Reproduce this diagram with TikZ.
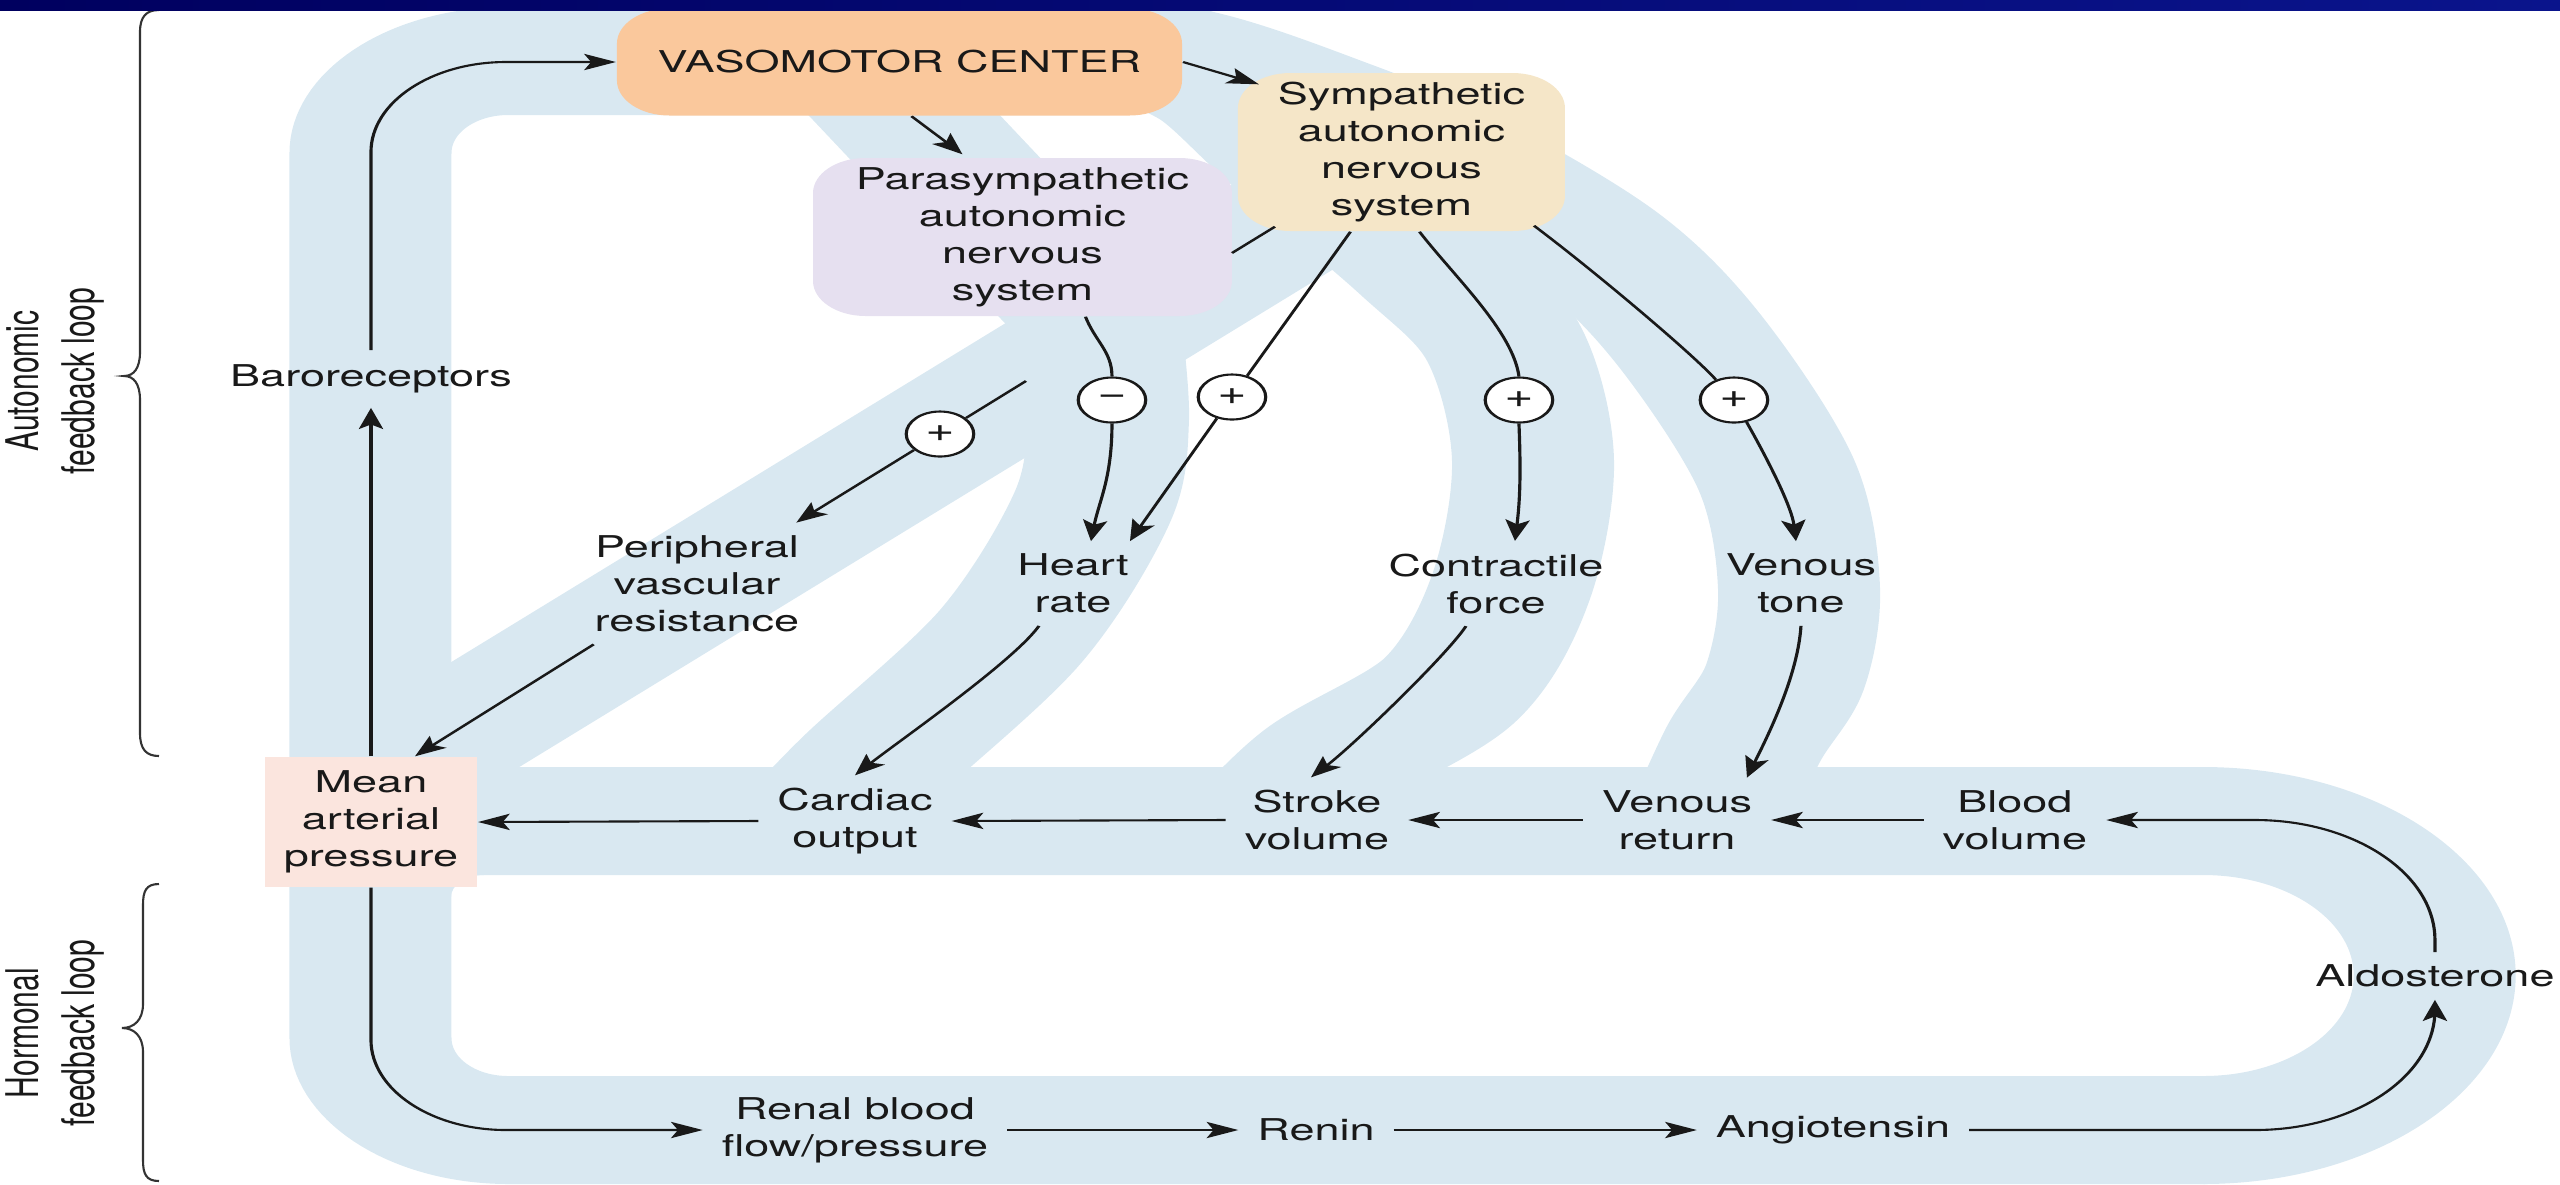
\documentclass[tikz,border=0pt]{standalone}
\usepackage{fontspec}
\setmainfont{TeX Gyre Heros}
\usetikzlibrary{arrows.meta,calc}
\definecolor{bandblue}{RGB}{217,232,241}
\definecolor{vmcfill}{RGB}{250,200,156}
\definecolor{symfill}{RGB}{245,230,200}
\definecolor{parafill}{RGB}{230,224,240}
\definecolor{mapfill}{RGB}{251,229,222}
\definecolor{navyA}{RGB}{0,0,95}
\definecolor{navyB}{RGB}{10,20,140}
\begin{document}
\begin{tikzpicture}[x=0.1mm,y=-0.1mm,
  every node/.style={font=\fontsize{8.54pt}{10.53pt}\selectfont, text=black!90},
  lbl/.style={align=center, inner xsep=1.2mm, inner ysep=1.2mm},
  boxnode/.style={align=center, inner sep=0pt, rounded corners=3.5mm},
  sign/.style={circle, draw=black!90, fill=white, line width=0.6pt, minimum size=4.5mm, inner sep=0pt, font=\fontsize{9.5pt}{10pt}\selectfont},
  conn/.style={line width=0.6pt, draw=black!90},
  arr/.style={conn, -{Stealth[length=6pt,width=4.6pt,inset=1.3pt]}},
  band/.style={draw=bandblue, line width=10.8mm},
  bracestyle/.style={line width=0.6pt, draw=black!80}]
\useasboundingbox (0,0) rectangle (2560,1184);

% everything below is laid out on a horizontally stretched canvas
\begin{scope}[x=0.0666667mm, transform canvas={xscale=1.5}]

  % light blue feedback bands
  \begin{scope}
    \clip (0,9) rectangle (2560,1184);
    \draw[band, rounded corners=9.2mm] (1110,61) -- (370.5,61) -- (370.5,1130) -- (2205,1130);
    \draw[band] (2203,1130) arc[start angle=-90, end angle=90, radius=15.45mm] -- (370.5,821);
    \fill[bandblue] (451,875) -- (451,897) arc[start angle=180, end angle=90, radius=2.2mm] -- cycle;
    \draw[band] plot[smooth, tension=0.55] coordinates {(1050,61) (1177,61) (1330,111) (1457,165) (1599,250) (1690,341) (1776,474) (1799,587) (1785,677) (1743,745) (1700,840)};
    \draw[band] plot[smooth, tension=0.55] coordinates {(1150,50) (1220,83) (1297,153) (1425,262) (1503,342) (1533,459) (1511,587) (1451,689) (1326,765) (1250,840)};
    \draw[band] plot[smooth, tension=0.55] coordinates {(1100,320) (1108,420) (1092,508) (1011,636) (871,766) (810,830)};
    \draw[band] (853,61) -- (1110,333);
    \draw[band] (370,785) -- (1420,143);
  \end{scope}

  % boxes
  \node[boxnode, fill=vmcfill, minimum width=37.67mm, minimum height=10.7mm] (vmc) at (899.5,62) {VASOMOTOR CENTER};
  \node[boxnode, fill=symfill, minimum width=21.8mm, minimum height=15.8mm] (sym) at (1401.5,152) {Sympathetic\\autonomic\\nervous\\system};
  \node[boxnode, fill=parafill, minimum width=27.93mm, minimum height=15.8mm] (para) at (1022.5,237) {Parasympathetic\\autonomic\\nervous\\system};
  \node[align=center, inner sep=0pt, fill=mapfill, minimum width=14.13mm, minimum height=13mm] (map) at (371,822) {Mean\\arterial\\pressure};

  % labels
  \node[lbl, inner ysep=1.4mm] (baro) at (371,379) {Baroreceptors};
  \node[lbl] (co) at (855,821) {Cardiac\\output};
  \node[lbl] (sv) at (1317,820) {Stroke\\volume};
  \node[lbl] (vr) at (1677,820) {Venous\\return};
  \node[lbl] (bv) at (2015,820) {Blood\\volume};
  \node[lbl] (pvr) at (697,583.5) {Peripheral\\vascular\\resistance};
  \node[lbl] (hr) at (1073,583.5) {Heart\\rate};
  \node[lbl] (cf) at (1496,583.5) {Contractile\\force};
  \node[lbl] (vt) at (1801,583.5) {Venous\\tone};
  \node[lbl] (ald) at (2435,976) {Aldosterone};
  \node[lbl] (renal) at (855,1130) {Renal blood\\flow/pressure};
  \node[lbl] (renin) at (1316,1130) {Renin};
  \node[lbl] (ang) at (1833,1130) {Angiotensin};

  % sign circles
  \node[sign] (cpvr) at (940,434) {+};
  \node[sign] (cminus) at (1112,400) {−};
  \node[sign] (chr) at (1232,397) {+};
  \node[sign] (ccf) at (1519,400) {+};
  \node[sign] (cvt) at (1734,400) {+};

  % side captions
  \node[rotate=90, align=center] (autolbl) at (55,381) {Autonomic\\feedback loop};
  \node[rotate=90, align=center] (hormlbl) at (55,1033) {Hormonal\\feedback loop};

  % main loop
  \draw[arr, rounded corners=9mm] (baro.north) |- (vmc.west);
  \draw[arr] (map.north) -- (baro.south);
  \draw[arr, rounded corners=9mm] (map.south) |- (renal.west);
  \draw[arr] (renal.east) -- (renin.west);
  \draw[arr] (renin.east) -- (ang.west);
  \draw[arr, rounded corners=12mm] (ang.east) -| (ald.south);
  \draw[arr, rounded corners=12mm] (ald.north) |- (bv.east);
  \draw[arr] (bv.west) -- (vr.east);
  \draw[arr] (vr.west) -- (sv.east);
  \draw[arr] (sv.west) -- (co.east);
  \draw[arr] (co.west) -- (map.east);

  % vasomotor outputs
  \draw[arr] (vmc.east) -- ($(sym.north west)+(22,12)$);
  \draw[arr] ($(vmc.south)+(12,0)$) -- ($(para.north)+(-60,-3)$);

  % parasympathetic branch
  \draw[conn] ($(para.south)+(63,0)$) .. controls +(10,25) and +(0,-25) .. (cminus.north);
  \draw[arr] (cminus.south) .. controls +(0,55) and +(8,-40) .. ($(hr.north)+(18,0)$);

  % sympathetic branches
  \coordinate (hopA) at (1232,253);
  \coordinate (hopB) at (1026,381);
  \draw[conn] ($(sym.south west)+(38,-5)$) -- (hopA);
  \draw[conn] (hopB) -- (cpvr);
  \draw[arr] (cpvr) -- ($(pvr.north east)+(-22,0)$);
  \draw[conn] ($(sym.south)+(-51,0)$) -- (chr);
  \draw[arr] (chr) -- ($(hr.north)+(57,0)$);
  \draw[conn] ($(sym.south)+(18,0)$) .. controls +(35,45) and +(-6,-45) .. (ccf.north);
  \draw[arr] (ccf.south) .. controls +(2,50) and +(5,-40) .. ($(cf.north)+(19,0)$);
  \draw[conn] ($(sym.south east)+(-32,-6)$) .. controls +(60,45) and +(-40,-45) .. (cvt);
  \draw[arr] (cvt) .. controls +(20,35) and +(-5,-40) .. ($(vt.north)+(-5,0)$);

  % effectors to the haemodynamic chain
  \draw[arr] ($(pvr.south west)+(18,0)$) -- ($(map.north)+(44,0)$);
  \draw[arr] ($(hr.south)+(-34,0)$) .. controls +(-25,35) and +(45,-35) .. (co.north);
  \draw[arr] ($(cf.south)+(-30,0)$) .. controls +(-20,30) and +(40,-30) .. ($(sv.north)+(-6,0)$);
  \draw[arr] (vt.south) .. controls +(-3,50) and +(20,-40) .. ($(vr.north)+(70,0)$);
\end{scope}

% braces
\draw[bracestyle] (159,10) .. controls (146,10) and (140,17) .. (140,32) -- (140,352)
  .. controls (140,368) and (134,376) .. (124,376)
  .. controls (134,376) and (140,384) .. (140,400) -- (140,733)
  .. controls (140,749) and (146,756) .. (159,756);
\draw[bracestyle] (159,884) .. controls (146,884) and (143,891) .. (143,905) -- (143,1004)
  .. controls (143,1020) and (134,1028) .. (122,1028)
  .. controls (134,1028) and (143,1036) .. (143,1052) -- (143,1160)
  .. controls (143,1174) and (146,1181) .. (159,1181);

% title bar strip
\shade[left color=navyA, right color=navyB] (0,0) rectangle (2560,10);
\end{tikzpicture}
\end{document}
